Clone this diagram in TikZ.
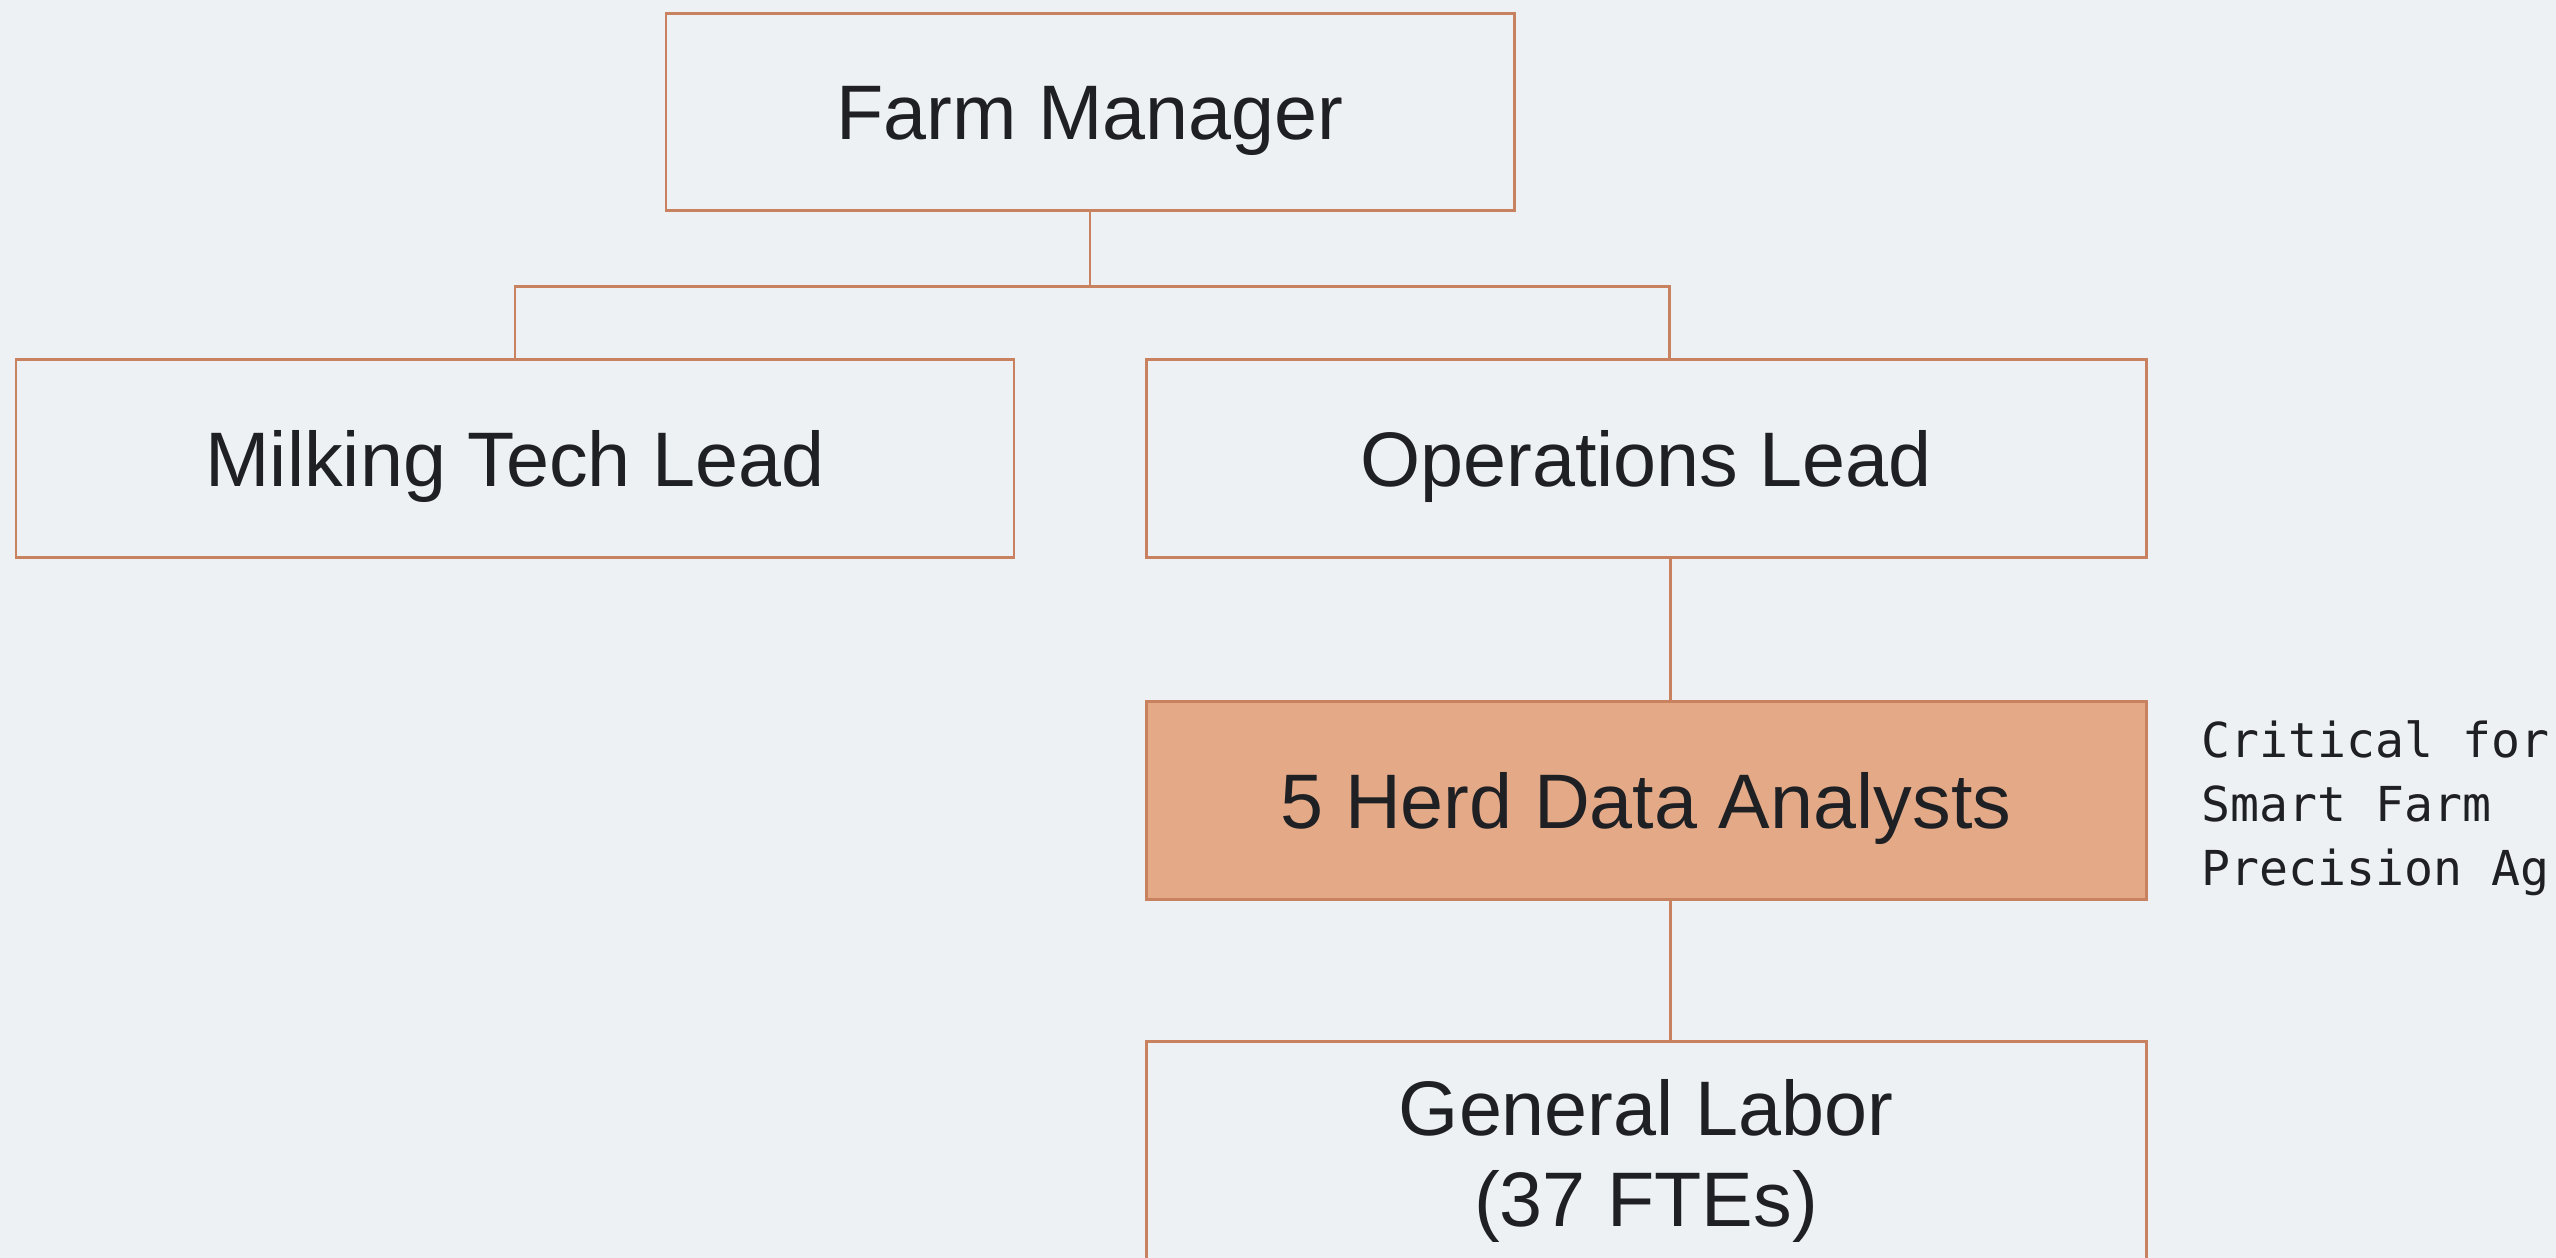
\documentclass[tikz,border=0pt]{standalone}
\usepackage{fontspec}
\setmainfont{Liberation Sans}
\setmonofont{DejaVu Sans Mono}
\usepackage{tikz}
\definecolor{paper}{RGB}{238,241,244}
\definecolor{boxedge}{RGB}{200,130,95}
\definecolor{keyfill}{RGB}{228,170,136}
\definecolor{ink}{RGB}{30,32,36}
\tikzstyle{role} = [draw=boxedge, line width=0.85pt, fill=paper, text=ink, inner sep=0pt, align=center,
    minimum width=10cm, minimum height=1.98cm, font=\fontsize{22}{26}\selectfont]
\tikzstyle{oneline} = [text height=18pt, text depth=2pt]
\tikzstyle{keyrole} = [role, oneline, fill=keyfill]
\tikzstyle{link} = [draw=boxedge, line width=0.85pt]

\begin{document}
\begin{tikzpicture}
            \fill[paper] (0,0) rectangle (25.56,-12.58);
            \clip (0,0) rectangle (25.56,-12.58);
            \node[role, oneline, minimum width=8.48cm, minimum height=1.97cm] (manager) at (10.90,-1.115) {Farm Manager};
            \node[role, oneline, minimum width=9.98cm] (milking) at (5.15,-4.58) {Milking Tech Lead};
            \node[role, oneline] (ops) at (16.46,-4.58) {Operations Lead};
            \node[keyrole] (analysts) at (16.46,-8.005) {5 Herd Data Analysts};
            \node[role, minimum height=2.4cm] (labor) at (16.46,-11.61) {General Labor\\(37 FTEs)};
            \node[anchor=west, align=left, text=ink, font=\ttfamily\fontsize{13.7}{18.2}\selectfont] (note) at (21.89,-8.08)
                {Critical for\\Smart Farm\\Precision Ag};
            \draw[link] (manager.south) -- ++(0,-0.75) -| (milking.north);
            \draw[link] (manager.south) -- ++(0,-0.75) -| ([xshift=0.23cm]ops.north);
            \draw[link] ([xshift=0.24cm]ops.south) -- ([xshift=0.24cm]analysts.north);
            \draw[link] ([xshift=0.24cm]analysts.south) -- ([xshift=0.24cm]labor.north);
        \end{tikzpicture}
\end{document}
